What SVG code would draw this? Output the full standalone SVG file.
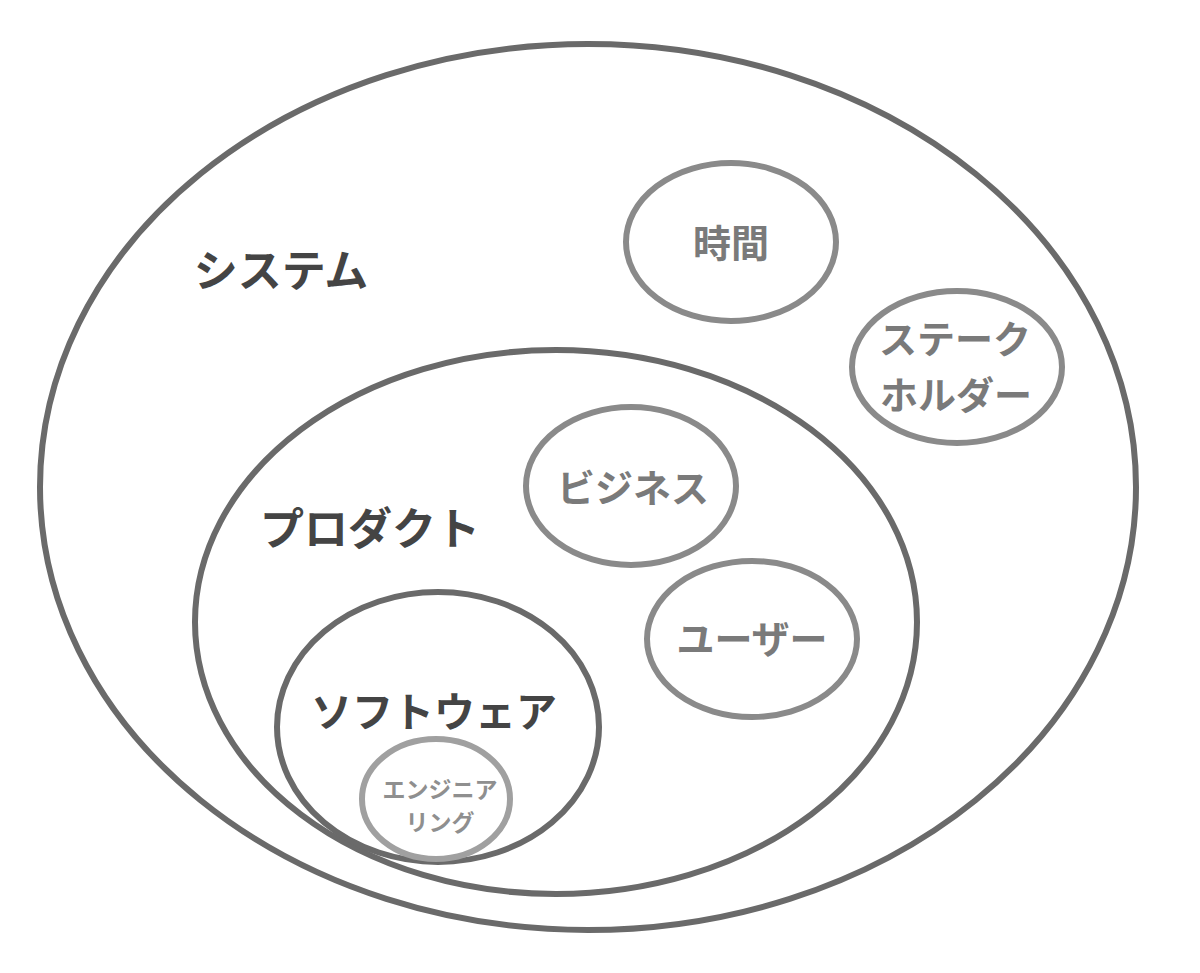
<svg xmlns="http://www.w3.org/2000/svg" width="1200" height="973" viewBox="0 0 1200 973">
<style>
.e{fill:none}
.dark{stroke:#6a6a6a;stroke-width:6}
.mid{stroke:#8a8a8a;stroke-width:6}
.light{stroke:#a0a0a0;stroke-width:6}
text{font-family:"Noto Sans CJK JP","Noto Sans",sans-serif;font-weight:bold;text-anchor:middle;dominant-baseline:central}
.t1{font-size:44px;fill:#444}
.t2{font-size:38px;fill:#7a7a7a}
.t3{font-size:23px;fill:#8f8f8f}
</style>
<rect width="1200" height="973" fill="#fff"/>
<g id="system"><ellipse class="e dark" cx="588" cy="487" rx="548" ry="443"/><text class="t1" x="281" y="268">システム</text></g>
<g id="product"><ellipse class="e dark" cx="556" cy="622" rx="361" ry="272"/><text class="t1" x="370" y="526">プロダクト</text></g>
<g id="software"><ellipse class="e dark" cx="438" cy="727" rx="161" ry="135"/><text class="t1" x="434" y="709" style="font-size:41px">ソフトウェア</text></g>
<g id="engineering"><ellipse class="e light" cx="436" cy="799" rx="74" ry="60"/><text class="t3" x="440" y="788">エンジニア</text><text class="t3" x="440" y="821">リング</text></g>
<g id="time"><ellipse class="e mid" cx="731" cy="242" rx="105" ry="79"/><text class="t2" x="731" y="240">時間</text></g>
<g id="stakeholder"><ellipse class="e mid" cx="957" cy="367" rx="105" ry="76"/><text class="t2" x="955" y="336">ステーク</text><text class="t2" x="956" y="392">ホルダー</text></g>
<g id="business"><ellipse class="e mid" cx="631" cy="486" rx="105" ry="79"/><text class="t2" x="633" y="485">ビジネス</text></g>
<g id="user"><ellipse class="e mid" cx="752" cy="639" rx="105" ry="78"/><text class="t2" x="752" y="636">ユーザー</text></g>
<g id="connectors"></g>
</svg>
